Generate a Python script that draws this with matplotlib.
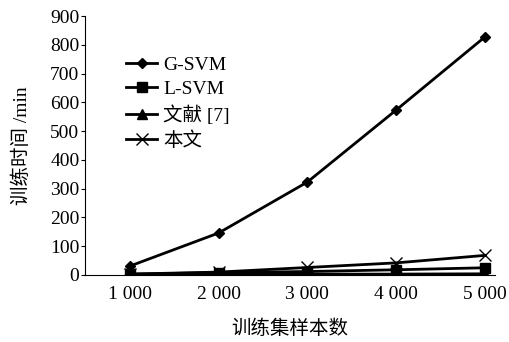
import matplotlib
matplotlib.use('Agg')
import matplotlib.pyplot as plt

plt.rcParams['font.family'] = ['Liberation Serif', 'Noto Sans CJK SC']
plt.rcParams['axes.unicode_minus'] = False

# 数据
samples = [1000, 2000, 3000, 4000, 5000]
xlabels = ['1 000', '2 000', '3 000', '4 000', '5 000']
g_svm = [31, 146, 323, 573, 827]
l_svm = [3, 8, 12, 18, 25]
ref7 = [1, 2, 3, 3, 4]
ours = [3, 10, 26, 42, 68]

fig = plt.figure(figsize=(5.09, 3.42), dpi=100)
ax = fig.add_axes([0.167, 0.196, 0.805, 0.757])

lw = 2.0
ax.plot(samples, g_svm, color='black', lw=lw, marker='D', ms=5, label='G-SVM')
ax.plot(samples, l_svm, color='black', lw=lw, marker='s', ms=7, label='L-SVM')
ax.plot(samples, ref7, color='black', lw=lw, marker='^', ms=7, label='文献 [7]')
ax.plot(samples, ours, color='black', lw=lw, marker='x', ms=9, mew=1.0, label='本文')

ax.set_xlim(493, 5113)
ax.set_ylim(0, 900)
ax.set_yticks(range(0, 901, 100))
ax.set_xticks(samples)
ax.set_xticklabels(xlabels)
ax.tick_params(axis='x', length=0, labelsize=14, pad=8)
ax.tick_params(axis='y', direction='out', length=3, labelsize=14, pad=1)
ax.spines['top'].set_visible(False)
ax.spines['right'].set_visible(False)
ax.spines['left'].set_linewidth(0.8)
ax.spines['bottom'].set_linewidth(0.8)

ax.set_xlabel('训练集样本数', fontsize=14, labelpad=12)
ax.set_ylabel('训练时间 /min', fontsize=14, labelpad=14)

ax.legend(loc='upper left', bbox_to_anchor=(0.1, 0.845), frameon=False,
          fontsize=14, borderpad=0, borderaxespad=0, labelspacing=0.35,
          handlelength=1.6, handletextpad=0.3)

fig.savefig('out.png', dpi=100)
